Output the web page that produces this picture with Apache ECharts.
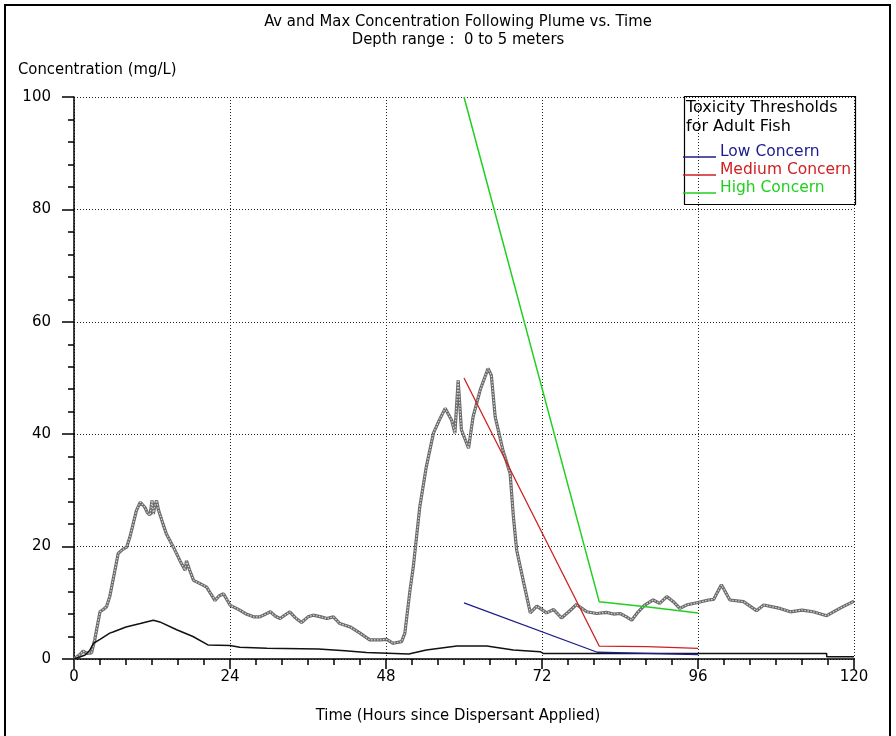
<!DOCTYPE html>
<html>
<head>
<meta charset="utf-8">
<script src="https://cdn.jsdelivr.net/npm/echarts@6/dist/echarts.min.js"></script>
<style>html,body{margin:0;padding:0;background:#fff;}#c{width:896px;height:736px;}</style>
</head>
<body>
<div id="c"></div>
<script>
// ---- data ----
var xTicks = [0, 24, 48, 72, 96, 120];
var yTicks = [0, 20, 40, 60, 80, 100];
var maxConc = [[0,0],[0.9,0.8],[1.4,1.4],[2.0,1.0],[2.7,1.1],[3.2,3.5],[4.0,8.4],[4.5,8.8],[5.0,9.3],[5.5,11.1],[6.3,15.8],[6.8,18.8],[7.5,19.5],[8.1,19.9],[8.6,21.7],[9.6,26.4],[10.2,27.9],[10.9,27.0],[11.3,26.0],[11.7,25.6],[12.0,28.2],[12.2,25.8],[12.5,27.5],[12.7,28.2],[13.0,26.5],[13.2,25.8],[13.7,24.0],[14.2,22.3],[15.3,19.9],[16.3,17.5],[17.1,15.8],[17.3,17.5],[17.8,15.8],[18.4,14.0],[19.4,13.4],[20.4,12.8],[21.7,10.4],[22.3,11.2],[23.0,11.6],[24.0,9.6],[25.5,8.7],[26.5,8.0],[27.6,7.5],[28.6,7.5],[30.2,8.4],[31.0,7.6],[31.7,7.2],[33.2,8.4],[34.0,7.4],[35.0,6.5],[36.0,7.5],[36.8,7.8],[38.0,7.5],[38.9,7.2],[39.9,7.5],[40.9,6.3],[42.5,5.7],[44.0,4.6],[45.5,3.4],[47.1,3.4],[48.1,3.5],[49.1,2.8],[50.4,3.1],[50.9,4.6],[51.2,7.5],[51.7,12.3],[52.2,16.4],[53.2,27.1],[54.2,34.2],[55.3,40.2],[56.2,42.5],[57.1,44.6],[58.1,42.5],[58.6,40.2],[59.1,49.6],[59.6,40.8],[60.7,37.5],[61.4,43.1],[62.5,47.9],[63.7,51.7],[64.2,50.5],[64.8,43.1],[66.0,37.1],[67.1,33.0],[67.6,25.3],[68.1,19.4],[69.2,13.5],[70.2,8.2],[71.2,9.4],[72.7,8.2],[73.8,8.8],[75.0,7.3],[76.2,8.5],[77.3,9.7],[78.9,8.4],[80.4,8.1],[81.9,8.3],[83.0,8.0],[84.0,8.1],[85.0,7.5],[85.8,6.9],[86.8,8.4],[87.8,9.6],[89.1,10.5],[90.1,9.9],[91.2,11.1],[92.2,10.2],[93.2,9.0],[94.2,9.6],[95.8,10.0],[97.6,10.5],[98.4,10.6],[99.6,13.2],[100.9,10.5],[103.0,10.2],[105.0,8.6],[106.1,9.6],[108.6,9.0],[110.2,8.4],[112.0,8.7],[113.7,8.4],[115.8,7.7],[117.8,9.0],[120.0,10.3]];
var avgConc = [[0,0],[1.0,0.4],[1.7,0.7],[2.4,1.5],[3,2.8],[4,3.5],[5.5,4.6],[6,4.8],[8,5.7],[10.2,6.3],[12.2,6.9],[13.2,6.6],[15.8,5.2],[18.3,4.0],[20.6,2.5],[24,2.4],[25.5,2.1],[29.7,1.9],[37.6,1.8],[37.6,1.45],[41.7,1.45],[41.7,1.15],[45,1.15],[45,0.85],[51.5,0.9],[54.2,1.6],[58.9,2.3],[63.5,2.3],[67.6,1.6],[71.7,1.3],[72.2,1.0],[115.8,1.0],[115.8,0.4],[120,0.4]];
var lowConcern = [[60,10],[80.5,1.2],[88,1.0],[96,0.8]];
var mediumConcern = [[60,50],[80.8,2.3],[88.2,2.2],[88.4,1.9],[96,1.9]];
var highConcern = [[60,100],[80.8,10.2],[88,9.3],[96,8.2]];
var titleLines = ['Av and Max Concentration Following Plume vs. Time', 'Depth range :  0 to 5 meters'];
var yName = 'Concentration (mg/L)';
var xName = 'Time (Hours since Dispersant Applied)';
var legendTitle = ['Toxicity Thresholds', 'for Adult Fish'];
var legendNames = ['Low Concern', 'Medium Concern', 'High Concern'];
var legendColors = ['#1c1c8c', '#d02020', '#20d020'];

var chart = echarts.init(document.getElementById('c'), null, {renderer: 'canvas'});
var tickFont = 'DejaVu Sans';
var textFont = 'DejaVu Sans Condensed';

var gLeft = 74, gTop = 97, gRight = 42, gBottom = 77;

var g = [];
g.push({type:'rect', shape:{x:5, y:5, width:885, height:740}, style:{fill:'none', stroke:'#000', lineWidth:2}, z:10});
g.push({type:'text', x:458, y:22, style:{text:titleLines[0], font:'16.5px "' + textFont + '"', fill:'#000', align:'center', verticalAlign:'middle'}, z:10});
g.push({type:'text', x:458, y:40, style:{text:titleLines[1], font:'16.5px "' + textFont + '"', fill:'#000', align:'center', verticalAlign:'middle'}, z:10});
g.push({type:'text', x:18, y:70, style:{text:yName, font:'16.5px "' + textFont + '"', fill:'#000', align:'left', verticalAlign:'middle'}, z:10});
g.push({type:'text', x:458, y:716, style:{text:xName, font:'16.5px "' + textFont + '"', fill:'#000', align:'center', verticalAlign:'middle'}, z:10});
// threshold legend box
g.push({type:'rect', shape:{x:684.5, y:96.5, width:171, height:108}, style:{fill:'none', stroke:'#000', lineWidth:1.2}, z:10});
g.push({type:'text', x:686, y:108, style:{text:legendTitle[0], font:'16px "' + tickFont + '"', fill:'#000', verticalAlign:'middle'}, z:10});
g.push({type:'text', x:686, y:127, style:{text:legendTitle[1], font:'16px "' + tickFont + '"', fill:'#000', verticalAlign:'middle'}, z:10});
legendNames.forEach(function(n, i){
  var y = 152 + i * 18;
  g.push({type:'line', shape:{x1:683, y1:y+5, x2:716, y2:y+5}, style:{stroke:legendColors[i], lineWidth:1.3}, z:10});
  g.push({type:'text', x:720, y:y, style:{text:n, font:'15.5px "' + tickFont + '"', fill:legendColors[i], verticalAlign:'middle'}, z:10});
});

var option = {
  backgroundColor: '#fff',
  animation: false,
  grid: {left: gLeft, right: gRight, top: gTop, bottom: gBottom},
  xAxis: {
    type: 'value', min: xTicks[0], max: xTicks[xTicks.length-1], interval: xTicks[1]-xTicks[0],
    axisLine: {show: true, onZero: false, lineStyle: {color: '#000', width: 1.5}},
    axisTick: {show: true, length: 10, lineStyle: {color: '#000', width: 1.5}},
    minorTick: {show: true, splitNumber: 6, length: 6, lineStyle: {color: '#000', width: 1.5}},
    axisLabel: {color: '#000', fontFamily: tickFont, fontSize: 15, margin: 11},
    splitLine: {show: true, lineStyle: {color: '#222', type: [1, 2], width: 1}}
  },
  yAxis: {
    type: 'value', min: yTicks[0], max: yTicks[yTicks.length-1], interval: yTicks[1]-yTicks[0],
    axisLine: {show: true, onZero: false, lineStyle: {color: '#000', width: 1.5}},
    axisTick: {show: true, length: 12, lineStyle: {color: '#000', width: 1.5}},
    minorTick: {show: true, splitNumber: 5, length: 6, lineStyle: {color: '#000', width: 1.5}},
    axisLabel: {color: '#000', fontFamily: tickFont, fontSize: 15, margin: 23},
    splitLine: {show: true, lineStyle: {color: '#222', type: [1, 2], width: 1}}
  },
  graphic: g,
  series: [
    {type: 'line', data: maxConc, symbol: 'none', lineStyle: {color: '#6a6a6a', width: 3.2}, z: 3, silent: true},
    {type: 'line', data: maxConc, symbol: 'none', lineStyle: {color: '#d8d8d8', width: 1.2, type: [1.5, 1.5]}, z: 4, silent: true},
    {type: 'line', data: avgConc, symbol: 'none', lineStyle: {color: '#111', width: 1.5}, z: 5, silent: true},
    {type: 'line', data: lowConcern, symbol: 'none', lineStyle: {color: legendColors[0], width: 1.3}, z: 6, silent: true},
    {type: 'line', data: mediumConcern, symbol: 'none', lineStyle: {color: legendColors[1], width: 1.3}, z: 6, silent: true},
    {type: 'line', data: highConcern, symbol: 'none', lineStyle: {color: legendColors[2], width: 1.5}, z: 6, silent: true}
  ]
};
chart.setOption(option);
</script>
</body>
</html>
